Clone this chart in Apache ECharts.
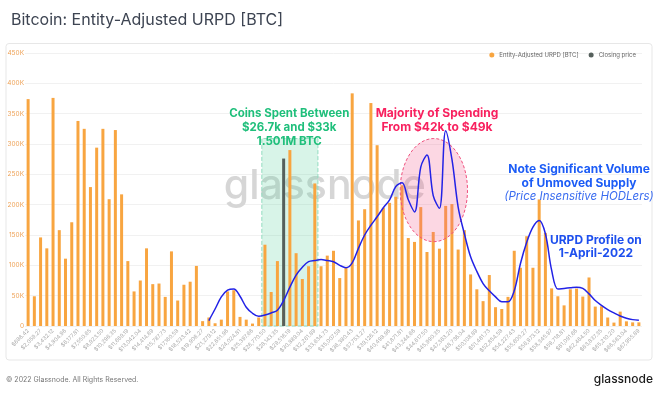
<!DOCTYPE html>
<html>
<head>
<meta charset="utf-8">
<script src="https://cdn.jsdelivr.net/npm/echarts@6/dist/echarts.min.js"></script>
<style>
  html, body { margin: 0; padding: 0; background: #fff; }
  #main { width: 667px; height: 399px; }
</style>
</head>
<body>
<div id="main"></div>
<script>
// price bins (USD), one bar each
var priceBins = [
  686.42, 1372.85, 2059.27, 2745.69, 3432.12, 4118.54, 4804.96, 5491.39, 6177.81, 6864.23,
  7550.65, 8237.08, 8923.50, 9609.92, 10296.35, 10982.77, 11669.19, 12355.62, 13042.04, 13728.46,
  14414.89, 15101.31, 15787.73, 16474.16, 17160.58, 17847.00, 18533.42, 19219.85, 19906.27, 20592.69,
  21279.12, 21965.54, 22651.96, 23338.39, 24024.81, 24711.23, 25397.66, 26084.08, 26770.50, 27456.93,
  28143.35, 28829.77, 29516.19, 30202.62, 30889.04, 31575.46, 32261.89, 32948.31, 33634.73, 34321.16,
  35007.58, 35694.00, 36380.43, 37066.85, 37753.27, 38439.70, 39126.12, 39812.54, 40498.96, 41185.39,
  41871.81, 42558.23, 43244.66, 43931.08, 44617.50, 45303.93, 45990.35, 46676.77, 47363.20, 48049.62,
  48736.04, 49422.47, 50108.89, 50795.31, 51481.73, 52168.16, 52854.58, 53541.00, 54227.43, 54913.85,
  55600.27, 56286.70, 56973.12, 57659.54, 58345.97, 59032.39, 59718.81, 60405.24, 61091.66, 61778.08,
  62464.50, 63150.93, 63837.35, 64523.77, 65210.20, 65896.62, 66583.04, 67269.47, 67955.89
];

// Entity-Adjusted URPD [BTC]
var urpd = [
  374000, 49000, 146000, 128000, 376000, 158000, 111000, 171000, 338000, 325000,
  229000, 294000, 325000, 209000, 323000, 217000, 107000, 57000, 75000, 128000,
  69000, 70000, 48000, 123000, 42000, 68000, 73000, 99000, 8000, 14000,
  4500, 10500, 57000, 59000, 15000, 10500, 4000, 14000, 134000, 56000,
  107000, 60000, 290000, 120000, 77500, 98500, 235000, 98500, 116000, 124000,
  79000, 96000, 383500, 174000, 192500, 367500, 298000, 195000, 203000, 213000,
  232000, 145000, 138600, 196000, 122000, 155000, 127500, 198000, 201000, 126000,
  158000, 85000, 60500, 41000, 84000, 31000, 28000, 48000, 124000, 96000,
  148000, 96000, 208600, 153500, 62000, 49000, 34000, 60500, 61700, 48500,
  80000, 32000, 32500, 14000, 5600, 23700, 7700, 6000, 6000
];

// closing price marker (bin index -> height)
var closingBin = 41;
var closingHeight = 276000;

// URPD profile on 1-April-2022 (drawn blue curve)
var profileApr2022 = [
  null, null, null, null, null, null, null, null, null, null,
  null, null, null, null, null, null, null, null, null, null,
  null, null, null, null, null, null, null, null, null, 9000,
  28000, 48000, 59000, 61000, 49000, 31000, 21000, 16000, 18000, 21500,
  26000, 42000, 64000, 84000, 97000, 106000, 108000, 109500, 108000, 106000,
  100000, 96000, 104000, 128000, 150000, 166000, 180000, 195000, 208000, 230000,
  236000, 208000, 188000, 262000, 282000, 215000, 194000, 322000, 275000, 196000,
  152000, 114000, 90000, 70000, 58000, 48000, 40000, 40000, 58000, 103000,
  138000, 163000, 174000, 152000, 92000, 61000, 62000, 63000, 64000, 62000,
  53000, 42000, 34000, 27000, 21500, 16500, 12700, 10500, 9400
];

var yTicks = [0, 450000, 50000]; // min, max, interval

var categories = priceBins.map(function (p) {
  return '$' + p.toLocaleString('en-US', { minimumFractionDigits: 2, maximumFractionDigits: 2 });
});
var closingData = categories.map(function (c, i) { return i === closingBin ? closingHeight : null; });

var myChart = echarts.init(document.getElementById('main'));
var FONT = 'Inter, "Noto Sans", sans-serif';

var option = {
  animation: false,
  title: {
    text: 'Bitcoin: Entity-Adjusted URPD [BTC]',
    left: 6,
    top: 7,
    textStyle: { fontSize: 16, fontWeight: 'normal', color: '#3d4452', fontFamily: FONT }
  },
  legend: {
    data: ['Entity-Adjusted URPD [BTC]', 'Closing price'],
    right: 26,
    top: 47,
    icon: 'circle',
    itemWidth: 5,
    itemHeight: 5,
    itemGap: 10,
    textStyle: { fontSize: 6, color: '#666', fontFamily: FONT }
  },
  grid: { left: 25, right: 25, top: 53, bottom: 73 },
  xAxis: {
    type: 'category',
    data: categories,
    axisLine: { show: false },
    axisTick: { show: false },
    axisLabel: { interval: 1, rotate: 45, fontSize: 5.5, color: '#ababab', margin: 4, fontFamily: FONT }
  },
  yAxis: {
    type: 'value',
    min: yTicks[0],
    max: yTicks[1],
    interval: yTicks[2],
    axisLabel: {
      fontSize: 6.5, color: '#eea257', margin: 1, fontFamily: FONT,
      formatter: function (v) { return v === 0 ? '0' : (v / 1000) + 'K'; }
    },
    splitLine: { lineStyle: { color: '#f1f1f1' } }
  },
  series: [{
    name: 'Entity-Adjusted URPD [BTC]',
    type: 'bar',
    data: urpd,
    barWidth: 3,
    itemStyle: { color: '#f8a540' },
    markArea: {
      silent: true,
      itemStyle: {
        color: 'rgba(100,210,165,0.25)',
        borderColor: '#92dcc0',
        borderType: 'dashed',
        borderWidth: 1
      },
      data: [[{ xAxis: categories[38], yAxis: 0 }, { xAxis: categories[46], yAxis: 309000 }]]
    }
  }, {
    name: 'Closing price',
    type: 'bar',
    data: closingData,
    barWidth: 3,
    barGap: '-100%',
    itemStyle: { color: '#55605c' }
  }, {
    name: 'URPD Profile',
    type: 'line',
    data: profileApr2022,
    smooth: 0.35,
    showSymbol: false,
    z: 5,
    lineStyle: { color: '#2222e6', width: 1.5 }
  }]
};
myChart.setOption(option);

// annotation placement in data space (fractional category index allowed)
function at(i, v) {
  var i0 = Math.floor(i), f = i - i0;
  var a = myChart.convertToPixel({ seriesIndex: 0 }, [i0, v]);
  var b = myChart.convertToPixel({ seriesIndex: 0 }, [i0 + 1, v]);
  return [a[0] + (b[0] - a[0]) * f, a[1]];
}

var eC = at(65.1, 224000), eL = at(59.7, 224000), eT = at(65.1, 309000);
var wm = at(47.6, 229000);
var tG = at(41.9, 327400), tP = at(65.6, 339000);
var tN = at(88.4, 246500), tI = at(88.4, 212900), tU = at(91.1, 130000);

myChart.setOption({
  graphic: [
    { type: 'rect', z: -1, shape: { x: 6, y: 43.5, width: 646, height: 316.5, r: 3 },
      style: { fill: '#fff', stroke: '#e7e7e7', lineWidth: 1 } },
    { type: 'text', z: 0, x: wm[0], y: wm[1],
      style: { text: 'glassnode', fill: '#d6d6d6', font: '500 41px ' + FONT, textAlign: 'center', textVerticalAlign: 'middle' } },
    { type: 'ellipse', z: 3,
      shape: { cx: eC[0], cy: eC[1], rx: eC[0] - eL[0], ry: eC[1] - eT[1] },
      style: { fill: 'rgba(245,95,145,0.25)', stroke: '#f0527f', lineWidth: 1, lineDash: [3, 2] } },
    { type: 'text', z: 10, x: tG[0], y: tG[1],
      style: { text: 'Coins Spent Between\n$26.7k and $33k\n1.501M BTC', fill: '#1fbf7b', font: 'bold 11.5px ' + FONT,
        lineHeight: 14, textAlign: 'center', textVerticalAlign: 'middle' } },
    { type: 'text', z: 10, x: tP[0], y: tP[1],
      style: { text: 'Majority of Spending\nFrom $42k to $49k', fill: '#f8215f', font: 'bold 12px ' + FONT,
        lineHeight: 14, textAlign: 'center', textVerticalAlign: 'middle' } },
    { type: 'text', z: 10, x: tN[0], y: tN[1],
      style: { text: 'Note Significant Volume\nof Unmoved Supply', fill: '#1c5cf6', font: 'bold 12px ' + FONT,
        lineHeight: 14, textAlign: 'center', textVerticalAlign: 'middle' } },
    { type: 'text', z: 10, x: tI[0], y: tI[1],
      style: { text: '(Price Insensitive HODLers)', fill: '#3a6cf0', font: 'italic 11.5px ' + FONT,
        textAlign: 'center', textVerticalAlign: 'middle' } },
    { type: 'text', z: 10, x: tU[0], y: tU[1],
      style: { text: 'URPD Profile on\n1-April-2022', fill: '#1d4fee', font: 'bold 12px ' + FONT,
        lineHeight: 13, textAlign: 'center', textVerticalAlign: 'middle' } },
    { type: 'text', left: 6, top: 376,
      style: { text: '\u00a9 2022 Glassnode. All Rights Reserved.', fill: '#777', font: '7px ' + FONT } },
    { type: 'text', right: 14, top: 373,
      style: { text: 'glassnode', fill: '#1b1b1b', font: '500 12px ' + FONT } }
  ]
});
</script>
</body>
</html>
